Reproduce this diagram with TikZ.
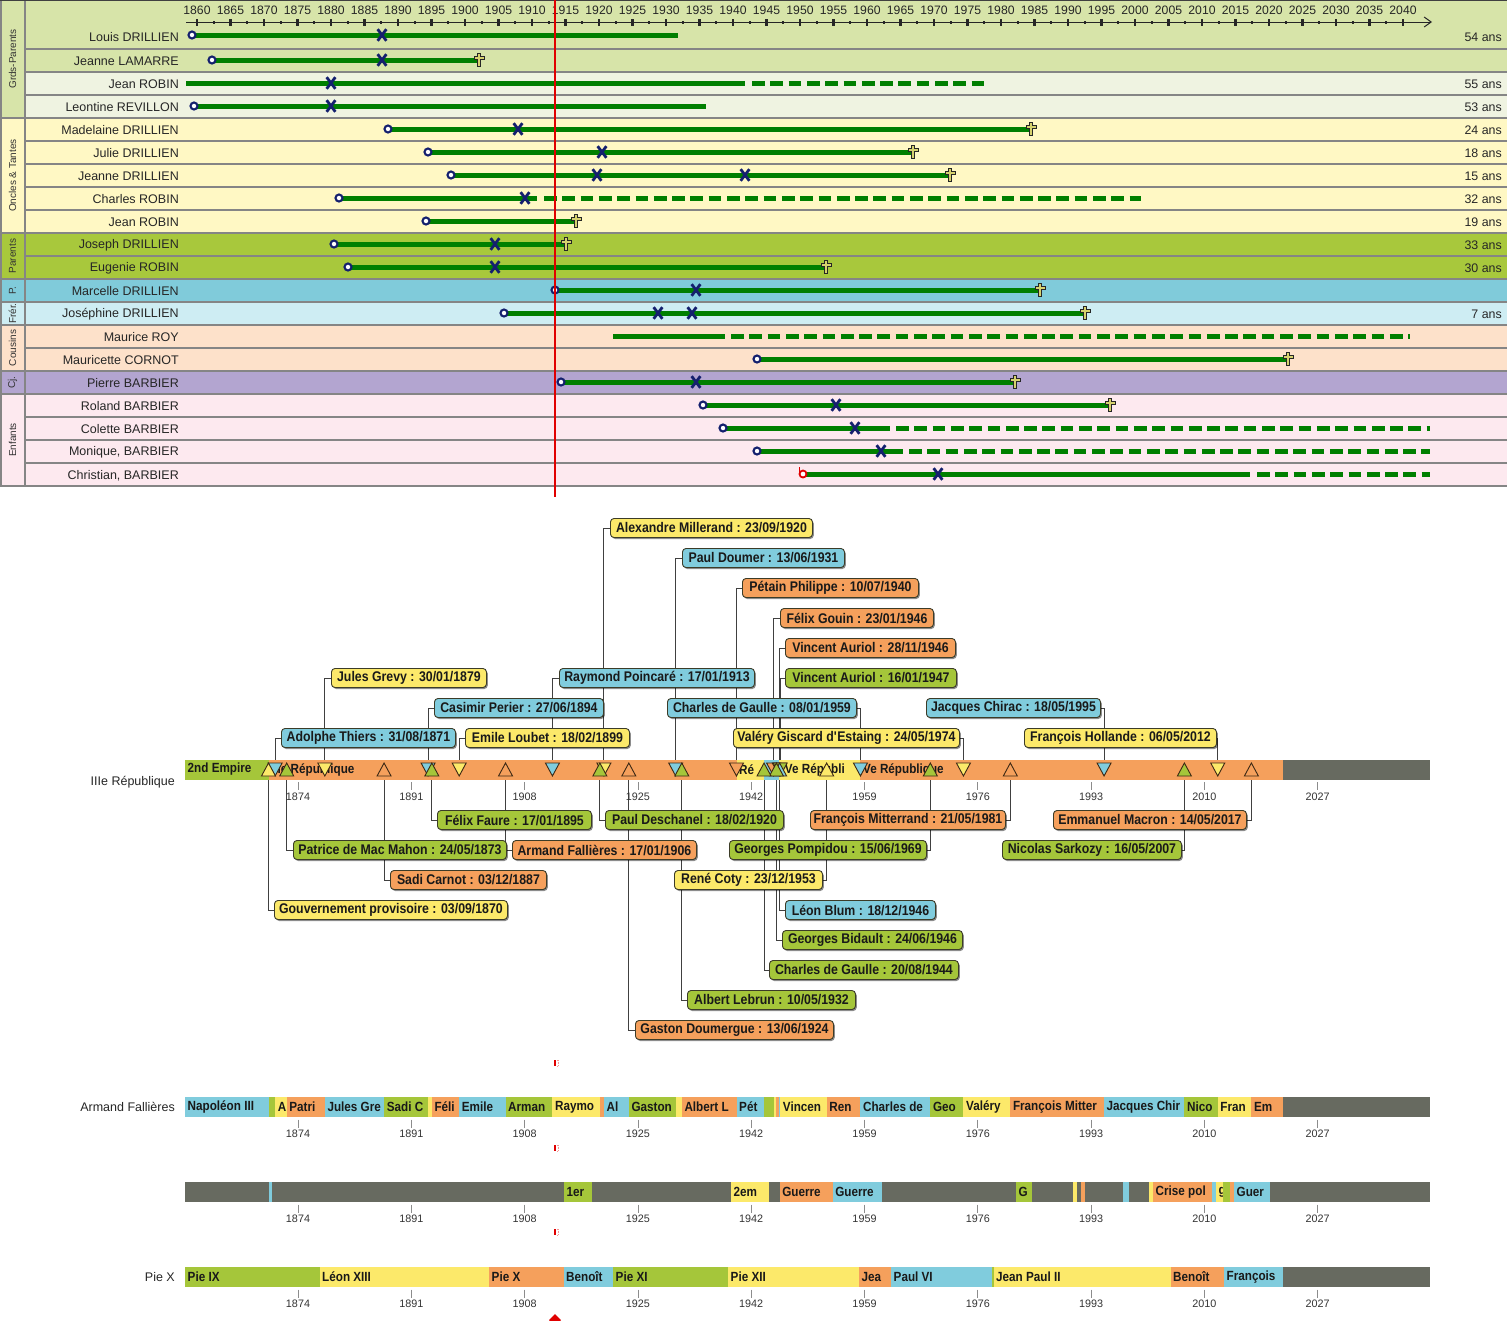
\documentclass[tikz,border=0pt]{standalone}
\usepackage{fontspec}
\setmainfont{Liberation Sans}
\newfontfamily\bx[FakeStretch=0.88]{Liberation Sans}
\usetikzlibrary{arrows.meta,shadows}
\pgfdeclarelayer{lbg}\pgfdeclarelayer{lconn}\pgfdeclarelayer{ltri}\pgfdeclarelayer{lbox}
\pgfsetlayers{lbg,lconn,main,ltri,lbox}
\definecolor{gpA}{HTML}{D7E4A9}
\definecolor{gpB}{HTML}{EFF3E1}
\definecolor{onc}{HTML}{FFF8C4}
\definecolor{par}{HTML}{A8C83C}
\definecolor{pbl}{HTML}{80CBDA}
\definecolor{fre}{HTML}{CEEDF3}
\definecolor{cou}{HTML}{FDE1CA}
\definecolor{cjc}{HTML}{B3A5D0}
\definecolor{enf}{HTML}{FDE9EF}
\definecolor{sepc}{HTML}{858585}
\definecolor{lgreen}{HTML}{007F00}
\definecolor{navyc}{HTML}{14206E}
\definecolor{crossf}{HTML}{D6D26E}
\definecolor{redc}{HTML}{E00000}
\definecolor{cY}{HTML}{FCE96A}
\definecolor{cB}{HTML}{80CCDD}
\definecolor{cG}{HTML}{A5C63A}
\definecolor{cO}{HTML}{F5A05C}
\definecolor{cGr}{HTML}{676A60}
\definecolor{boxd}{HTML}{3C3C28}
\definecolor{trid}{HTML}{3C2814}
\newcount\segn
\newcommand{\seg}[5]{%
  \fill[#3] (#1,-#4) rectangle (#2,{-#4-20});
  \global\advance\segn by 1
  \node[segt] (sg\the\segn) at ({#1+2.5},{-#4-10}) {#5};}
\newcommand{\pres}[9]{%
  \begin{pgfonlayer}{lbox}
  \node[pbox, fill=#3, minimum width={#6-#5}, anchor=west] (b#1) at (#5,-#7) {#9};
  \end{pgfonlayer}
  \coordinate (t#1) at ({197+6.7*(#2-1860)},-769.5);
  \begin{pgfonlayer}{lconn}
  \draw[conn] (t#1) |- (b#1.#8);
  \end{pgfonlayer}
  \begin{pgfonlayer}{ltri}
  \draw[trio, fill=#3] (t#1) ++(-7,{(#4)*6.5}) -- ++(14,0) -- ++(-7,{-2*(#4)*6.5}) -- cycle;
  \end{pgfonlayer}}
\newcommand{\axisrow}[2]{%
  \foreach \k/\lab in {0/1874,1/1891,2/1908,3/1925,4/1942,5/1959,6/1976,7/1993,8/2010,9/2027} {
    \draw[draw=black!45, line width=0.8] ({298+113.3*\k},{-#1-2.5}) -- ++(0,-8);
    \node[axl] (#2\lab) at ({298+113.3*\k},{-#1-17}) {\lab};
  }}
\begin{document}
\begin{tikzpicture}[x=1pt,y=1pt,
  nm/.style={anchor=east, font=\fontsize{12.5}{14}\selectfont, text=black!85, inner sep=0},
  age/.style={anchor=east, font=\fontsize{12.4}{14}\selectfont, text=black!85, inner sep=0},
  yrl/.style={font=\fontsize{12.2}{14}\selectfont, text=black!85, inner sep=0},
  grp/.style={rotate=90, font=\fontsize{10}{12}\selectfont, text=black!80, inner sep=0},
  sepline/.style={draw=sepc, line width=2},
  life/.style={draw=lgreen, line width=5},
  lifed/.style={draw=lgreen, line width=5, dash pattern=on 12.7 off 5.6},
  conn/.style={draw=black!75, line width=0.9},
  trio/.style={draw=trid, line width=0.9, line join=miter},
  pbox/.style={draw=boxd, rounded corners=3.5, line width=0.9, minimum height=19, inner xsep=1, inner ysep=0,
     font=\bx\bfseries\fontsize{14}{15}\selectfont, text=black!90,
     drop shadow={shadow xshift=1.3pt, shadow yshift=-1.5pt, opacity=0.45, fill=black}},
  segt/.style={anchor=west, inner sep=0, font=\bx\bfseries\fontsize{13.3}{15}\selectfont, text=black!90},
  axl/.style={font=\fontsize{10.8}{12}\selectfont, text=black!80, inner sep=0},
  rowl/.style={anchor=east, font=\fontsize{12.5}{14}\selectfont, text=black!85, inner sep=0},
  pics/born/.style={code={\draw[navyc, line width=2.1, fill=white] (0,0) circle (3.5);}},
  pics/bornred/.style={code={\draw[redc, line width=1.8, fill=white] (0,0) circle (3.5); \draw[redc, line width=1.8] (-3.5,0) -- (-3.5,7.5);}},
  pics/wed/.style={code={\draw[navyc, line width=2.8] (-4.4,-5.8) -- (4.4,5.8) (-4.4,5.8) -- (4.4,-5.8);}},
  pics/died/.style={code={\draw[draw=black!85, fill=crossf, line width=0.9] (-1.8,6.5) -- (1.8,6.5) -- (1.8,3.4) -- (5,3.4) -- (5,0.2) -- (1.8,0.2) -- (1.8,-6.5) -- (-1.8,-6.5) -- (-1.8,0.2) -- (-5,0.2) -- (-5,3.4) -- (-1.8,3.4) -- cycle;}}
]
\useasboundingbox (0,0) rectangle (1507,-1320);
\begin{pgfonlayer}{lbg}
\fill[white] (0,0) rectangle (1507,-1320);
\end{pgfonlayer}
% ---------- top table backgrounds
\fill[gpA] (0,0) rectangle (1507,-72);
\fill[gpA] (0,-72) rectangle (25,-118);
\fill[gpB] (25,-72) rectangle (1507,-118);
\fill[onc] (0,-118) rectangle (1507,-233);
\fill[par] (0,-233) rectangle (1507,-279);
\fill[pbl] (0,-279) rectangle (1507,-302);
\fill[fre] (0,-302) rectangle (1507,-325);
\fill[cou] (0,-325) rectangle (1507,-371);
\fill[cjc] (0,-371) rectangle (1507,-394);
\fill[enf] (0,-394) rectangle (1507,-486);
\foreach \k in {0,...,19} \draw[sepline] (25,{-49-23*\k}) -- (1507,{-49-23*\k});
\foreach \yy in {118,233,279,302,325,371,394,486} \draw[sepline] (0,-\yy) -- (25,-\yy);
\draw[sepline] (25,0) -- (25,-486);
\draw[sepline] (0.8,0) -- (0.8,-486);
\draw[black!75, line width=1.2] (0,-0.6) -- (1507,-0.6);
% group labels
\node[grp] (gGP) at (12.5,-59) {Grds-Parents};
\node[grp] (gOT) at (12.5,-175.5) {Oncles \& Tantes};
\node[grp] (gPa) at (12.5,-256) {Parents};
\node[grp] (gP) at (12.5,-290.5) {P.};
\node[grp] (gFr) at (12.5,-313.5) {Frér.};
\node[grp] (gCo) at (12.5,-348) {Cousins};
\node[grp] (gCj) at (12.5,-382.5) {Cj.};
\node[grp] (gEn) at (12.5,-440) {Enfants};
% names
\node[nm] (n1) at (179,-37) {Louis DRILLIEN};
\node[nm] (n2) at (179,-61.5) {Jeanne LAMARRE};
\node[nm] (n3) at (179,-84.5) {Jean ROBIN};
\node[nm] (n4) at (179,-107.5) {Leontine REVILLON};
\node[nm] (n5) at (179,-130.5) {Madelaine DRILLIEN};
\node[nm] (n6) at (179,-153.5) {Julie DRILLIEN};
\node[nm] (n7) at (179,-176.5) {Jeanne DRILLIEN};
\node[nm] (n8) at (179,-199.5) {Charles ROBIN};
\node[nm] (n9) at (179,-222.5) {Jean ROBIN};
\node[nm] (n10) at (179,-245.5) {Joseph DRILLIEN};
\node[nm] (n11) at (179,-268.5) {Eugenie ROBIN};
\node[nm] (n12) at (179,-291.5) {Marcelle DRILLIEN};
\node[nm] (n13) at (179,-314.5) {Joséphine DRILLIEN};
\node[nm] (n14) at (179,-337.5) {Maurice ROY};
\node[nm] (n15) at (179,-360.5) {Mauricette CORNOT};
\node[nm] (n16) at (179,-383.5) {Pierre BARBIER};
\node[nm] (n17) at (179,-406.5) {Roland BARBIER};
\node[nm] (n18) at (179,-429.5) {Colette BARBIER};
\node[nm] (n19) at (179,-452.5) {Monique, BARBIER};
\node[nm] (n20) at (179,-475.5) {Christian, BARBIER};
% ages
\node[age] (a1) at (1502,-37) {54 ans};
\node[age] (a3) at (1502,-84.5) {55 ans};
\node[age] (a4) at (1502,-107.5) {53 ans};
\node[age] (a5) at (1502,-130.5) {24 ans};
\node[age] (a6) at (1502,-153.5) {18 ans};
\node[age] (a7) at (1502,-176.5) {15 ans};
\node[age] (a8) at (1502,-199.5) {32 ans};
\node[age] (a9) at (1502,-222.5) {19 ans};
\node[age] (a10) at (1502,-245.5) {33 ans};
\node[age] (a11) at (1502,-268.5) {30 ans};
\node[age] (a13) at (1502,-314.5) {7 ans};
% axis
\draw[black!85, line width=1, -{Straight Barb[length=7pt,width=10pt]}] (186,-22) -- (1432,-22);
\foreach \yr in {1860,1865,...,2040} {
  \fill[black!85] ({197+6.7*(\yr-1860)-1.1},-18.5) rectangle ++(2.2,-7.5);
  \node[yrl] (yr\yr) at ({197+6.7*(\yr-1860)},-10) {\yr};
}
\foreach \yr in {1862.5,1867.5,...,2037.5}
  \fill[black!85] ({197+6.7*(\yr-1860)-1},-21) rectangle ++(2,-2.6);
% life bars
\draw[life] (192,-35) -- (678,-35);
\draw[life] (212,-60) -- (479,-60);
\draw[life] (186,-83) -- (745,-83); \draw[lifed] (752,-83) -- (987,-83);
\draw[life] (194,-106) -- (706,-106);
\draw[life] (388,-129) -- (1031,-129);
\draw[life] (428,-152) -- (913,-152);
\draw[life] (451,-175) -- (950,-175);
\draw[life] (339,-198) -- (537,-198); \draw[lifed] (544,-198) -- (1141,-198);
\draw[life] (426,-221) -- (576,-221);
\draw[life] (334,-244) -- (566,-244);
\draw[life] (348,-267) -- (826,-267);
\draw[life] (555,-290) -- (1040,-290);
\draw[life] (504,-313) -- (1085,-313);
\draw[life] (613,-336) -- (725,-336); \draw[lifed] (731,-336) -- (1410,-336);
\draw[life] (757,-359) -- (1288,-359);
\draw[life] (561,-382) -- (1015,-382);
\draw[life] (703,-405) -- (1110,-405);
\draw[life] (723,-428) -- (890,-428); \draw[lifed] (896,-428) -- (1430,-428);
\draw[life] (757,-451) -- (903,-451); \draw[lifed] (909,-451) -- (1430,-451);
\draw[life] (803,-474) -- (1250,-474); \draw[lifed] (1257,-474) -- (1430,-474);
% markers
\pic at (192,-35) {born}; \pic at (382,-35) {wed};
\pic at (212,-60) {born}; \pic at (382,-60) {wed}; \pic at (479,-60) {died};
\pic at (331,-83) {wed};
\pic at (194,-106) {born}; \pic at (331,-106) {wed};
\pic at (388,-129) {born}; \pic at (518,-129) {wed}; \pic at (1031,-129) {died};
\pic at (428,-152) {born}; \pic at (602,-152) {wed}; \pic at (913,-152) {died};
\pic at (451,-175) {born}; \pic at (597,-175) {wed}; \pic at (745,-175) {wed}; \pic at (950,-175) {died};
\pic at (339,-198) {born}; \pic at (525,-198) {wed};
\pic at (426,-221) {born}; \pic at (576,-221) {died};
\pic at (334,-244) {born}; \pic at (495,-244) {wed}; \pic at (566,-244) {died};
\pic at (348,-267) {born}; \pic at (495,-267) {wed}; \pic at (826,-267) {died};
\pic at (555,-290) {born}; \pic at (696,-290) {wed}; \pic at (1040,-290) {died};
\pic at (504,-313) {born}; \pic at (658,-313) {wed}; \pic at (692,-313) {wed}; \pic at (1085,-313) {died};
\pic at (757,-359) {born}; \pic at (1288,-359) {died};
\pic at (561,-382) {born}; \pic at (696,-382) {wed}; \pic at (1015,-382) {died};
\pic at (703,-405) {born}; \pic at (836,-405) {wed}; \pic at (1110,-405) {died};
\pic at (723,-428) {born}; \pic at (855,-428) {wed};
\pic at (757,-451) {born}; \pic at (881,-451) {wed};
\pic at (803,-474) {bornred}; \pic at (938,-474) {wed};
% red line
\draw[redc, line width=2] (555,0) -- (555,-497);
% ---------- row A : regimes
\seg{185}{268.5}{cG}{759.5}{2nd Empire}
\seg{268.5}{736.5}{cO}{759.5}{IIIe République}
\seg{736.5}{764}{cY}{759.5}{Ré}
\seg{764}{779}{cB}{759.5}{}
\seg{779}{860.4}{cY}{759.5}{IVe Républi}
\seg{860.4}{1283}{cO}{759.5}{Ve République}
\seg{1283}{1430}{cGr}{759.5}{}
\node[rowl] (lA) at (175,-782) {IIIe République};
\axisrow{779.5}{xa}
% presidents above
\pres{mil}{1920.73}{cY}{1}{610}{812}{528}{west}{Alexandre Millerand : 23/09/1920}
\pres{dou}{1931.45}{cB}{1}{682}{844}{558}{west}{Paul Doumer : 13/06/1931}
\pres{pet}{1940.52}{cO}{1}{742}{918}{588}{west}{Pétain Philippe : 10/07/1940}
\pres{gou}{1946.06}{cO}{1}{780}{933}{618}{west}{Félix Gouin : 23/01/1946}
\pres{aur}{1946.91}{cO}{1}{785}{955}{648}{west}{Vincent Auriol : 28/11/1946}
\pres{aub}{1947.04}{cG}{1}{785}{956}{678}{west}{Vincent Auriol : 16/01/1947}
\pres{gre}{1879.08}{cY}{1}{331}{486}{678}{west}{Jules Grevy : 30/01/1879}
\pres{poi}{1913.05}{cB}{1}{559}{754}{678}{west}{Raymond Poincaré : 17/01/1913}
\pres{per}{1894.49}{cB}{1}{434}{603}{708}{west}{Casimir Perier : 27/06/1894}
\pres{dgb}{1959.02}{cB}{1}{667}{856}{708}{east}{Charles de Gaulle : 08/01/1959}
\pres{chi}{1995.38}{cB}{1}{926}{1100}{708}{east}{Jacques Chirac : 18/05/1995}
\pres{thi}{1871.66}{cB}{1}{281}{455}{738}{west}{Adolphe Thiers : 31/08/1871}
\pres{lou}{1899.13}{cY}{1}{465}{629}{738}{west}{Emile Loubet : 18/02/1899}
\pres{gis}{1974.39}{cY}{1}{733}{959}{738}{east}{Valéry Giscard d\textquotesingle Estaing : 24/05/1974}
\pres{hol}{2012.35}{cY}{1}{1024}{1216}{738}{east}{François Hollande : 06/05/2012}
% presidents below
\pres{fau}{1895.05}{cG}{-1}{437}{591}{820}{west}{Félix Faure : 17/01/1895}
\pres{des}{1920.13}{cG}{-1}{605}{783}{820}{west}{Paul Deschanel : 18/02/1920}
\pres{mit}{1981.39}{cO}{-1}{810}{1005}{820}{east}{François Mitterrand : 21/05/1981}
\pres{mac}{2017.37}{cO}{-1}{1053}{1246}{820}{east}{Emmanuel Macron : 14/05/2017}
\pres{mcm}{1873.39}{cG}{-1}{293}{506}{850}{west}{Patrice de Mac Mahon : 24/05/1873}
\pres{fal}{1906.05}{cO}{-1}{512}{696}{850}{west}{Armand Fallières : 17/01/1906}
\pres{pom}{1969.45}{cG}{-1}{729}{926}{850}{east}{Georges Pompidou : 15/06/1969}
\pres{sar}{2007.37}{cG}{-1}{1002}{1181}{850}{east}{Nicolas Sarkozy : 16/05/2007}
\pres{car}{1887.92}{cO}{-1}{390}{546}{880}{west}{Sadi Carnot : 03/12/1887}
\pres{cot}{1953.98}{cY}{-1}{674}{822}{880}{east}{René Coty : 23/12/1953}
\pres{gpv}{1870.67}{cY}{-1}{274}{507}{910}{west}{Gouvernement provisoire : 03/09/1870}
\pres{blu}{1946.96}{cB}{-1}{785}{935}{910}{west}{Léon Blum : 18/12/1946}
\pres{bid}{1946.48}{cG}{-1}{782}{962}{940}{west}{Georges Bidault : 24/06/1946}
\pres{dga}{1944.63}{cG}{-1}{769}{958}{970}{west}{Charles de Gaulle : 20/08/1944}
\pres{leb}{1932.36}{cG}{-1}{687}{855}{1000}{west}{Albert Lebrun : 10/05/1932}
\pres{dme}{1924.45}{cO}{-1}{635}{833}{1030}{west}{Gaston Doumergue : 13/06/1924}
% ---------- row B : presidents
\seg{185}{268.5}{cB}{1097}{Napoléon III}
\seg{268.5}{275.2}{cG}{1097}{}
\seg{275.2}{286.7}{cY}{1097}{A}
\seg{286.7}{324.8}{cO}{1097}{Patri}
\seg{324.8}{384.1}{cB}{1097}{Jules Gre}
\seg{384.1}{428.1}{cG}{1097}{Sadi C}
\seg{428.1}{431.8}{cY}{1097}{}
\seg{431.8}{459.2}{cO}{1097}{Féli}
\seg{459.2}{505.5}{cB}{1097}{Emile}
\seg{505.5}{552.4}{cG}{1097}{Arman}
\seg{552.4}{599.9}{cY}{1097}{Raymo}
\seg{599.9}{603.9}{cO}{1097}{}
\seg{603.9}{628.8}{cB}{1097}{Al}
\seg{628.8}{675.7}{cG}{1097}{Gaston}
\seg{675.7}{681.8}{cY}{1097}{}
\seg{681.8}{736.5}{cO}{1097}{Albert L}
\seg{736.5}{764}{cB}{1097}{Pét}
\seg{764}{773.6}{cG}{1097}{}
\seg{773.6}{776.4}{cY}{1097}{}
\seg{776.4}{779.3}{cO}{1097}{}
\seg{779.3}{780.2}{cB}{1097}{}
\seg{780.2}{826.7}{cY}{1097}{Vincen}
\seg{826.7}{860.4}{cO}{1097}{Ren}
\seg{860.4}{930.3}{cB}{1097}{Charles de}
\seg{930.3}{963.4}{cG}{1097}{Geo}
\seg{963.4}{1010.3}{cY}{1097}{Valéry}
\seg{1010.3}{1104}{cO}{1097}{François Mitter}
\seg{1104}{1184.4}{cB}{1097}{Jacques Chir}
\seg{1184.4}{1217.7}{cG}{1097}{Nico}
\seg{1217.7}{1251.4}{cY}{1097}{Fran}
\seg{1251.4}{1283}{cO}{1097}{Em}
\seg{1283}{1430}{cGr}{1097}{}
\node[rowl] (lB) at (175,-1107) {Armand Fallières};
\axisrow{1117}{xb}
% ---------- row C : events
\fill[cGr] (185,-1182) rectangle (1430,-1202);
\seg{268.6}{272}{cB}{1182}{}
\seg{564}{592.4}{cG}{1182}{1er}
\seg{731}{769}{cY}{1182}{2em}
\seg{779.6}{832.6}{cO}{1182}{Guerre}
\seg{832.6}{882}{cB}{1182}{Guerre}
\seg{1016}{1032}{cG}{1182}{G}
\seg{1073}{1077}{cY}{1182}{}
\seg{1081}{1084.5}{cO}{1182}{}
\seg{1123}{1129}{cB}{1182}{}
\seg{1149}{1153}{cY}{1182}{}
\seg{1153}{1212}{cO}{1182}{Crise pol}
\seg{1212}{1216}{cB}{1182}{}
\seg{1216}{1223}{cY}{1182}{g}
\seg{1223}{1230}{cG}{1182}{}
\seg{1230}{1234}{cO}{1182}{}
\seg{1234}{1270}{cB}{1182}{Guer}
\axisrow{1202}{xc}
% ---------- row D : popes
\seg{185}{319.5}{cG}{1267}{Pie IX}
\seg{319.5}{489}{cY}{1267}{Léon XIII}
\seg{489}{563.5}{cO}{1267}{Pie X}
\seg{563.5}{613}{cB}{1267}{Benoît}
\seg{613}{728}{cG}{1267}{Pie XI}
\seg{728}{859}{cY}{1267}{Pie XII}
\seg{859}{891}{cO}{1267}{Jea}
\seg{891}{992}{cB}{1267}{Paul VI}
\seg{992}{993.5}{cG}{1267}{}
\seg{993.5}{1170.5}{cY}{1267}{Jean Paul II}
\seg{1170.5}{1224}{cO}{1267}{Benoît}
\seg{1224}{1283}{cB}{1267}{François}
\seg{1283}{1430}{cGr}{1267}{}
\node[rowl] (lD) at (175,-1277) {Pie X};
\axisrow{1287}{xd}
% ---------- red date marks
\foreach \yy in {1060,1145,1229} {
  \fill[redc] (553.8,-\yy) rectangle ++(2.6,-6);
  \draw[redc!40, line width=0.6, densely dotted] (557,-\yy) -- ++(1.5,0) -- ++(0,-6) -- ++(-1.5,0);
}
\fill[redc] (555,-1314) -- (561,-1320) -- (555,-1326) -- (549,-1320) -- cycle;
\end{tikzpicture}
\end{document}
